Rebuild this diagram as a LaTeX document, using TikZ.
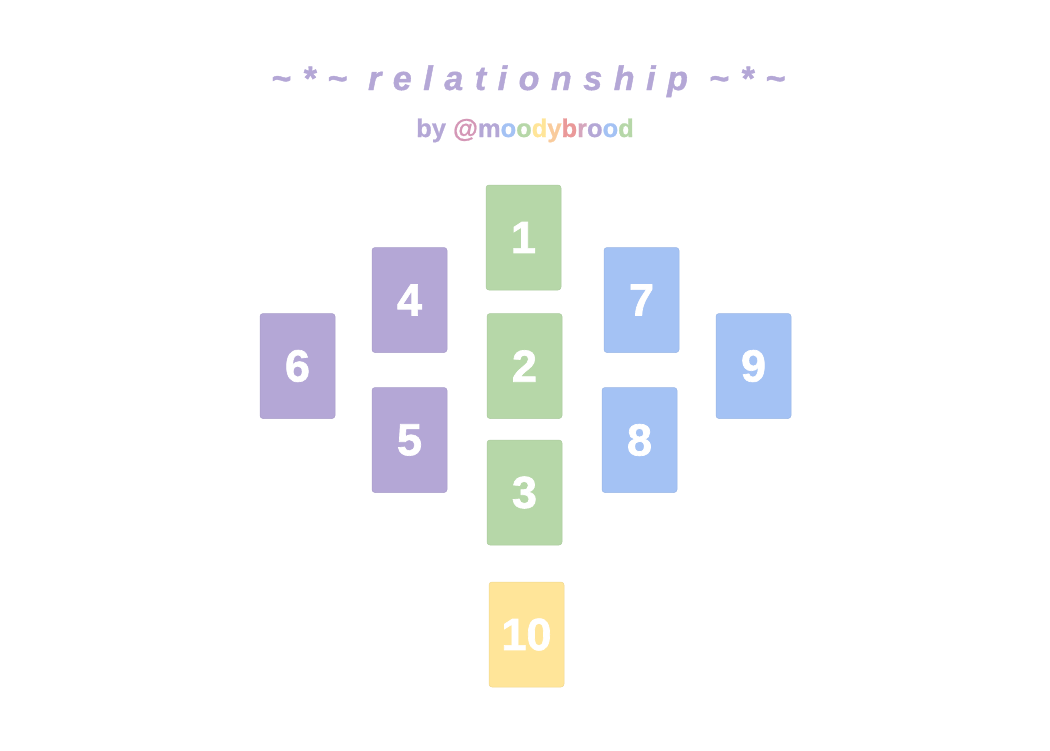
\documentclass[tikz,border=0pt]{standalone}
\usepackage{fontspec}
\usepackage{xcolor}
\setmainfont{Liberation Sans}[BoldFont=Liberation Sans Bold, BoldItalicFont=Liberation Sans Bold Italic]
\newfontfamily\titlefont{Liberation Sans Bold Italic}[LetterSpace=34, FakeBold=1.2]
\newfontfamily\cardfont{Liberation Sans Bold}[FakeBold=1.5]
\newfontfamily\bylinefont{Liberation Sans Bold}[FakeBold=0.8]
\definecolor{lavender}{HTML}{B4A7D6}
\definecolor{sage}{HTML}{B6D7A8}
\definecolor{sky}{HTML}{A4C2F4}
\definecolor{butter}{HTML}{FFE599}
\definecolor{peach}{HTML}{F9CB9C}
\definecolor{rose}{HTML}{EA9999}
\definecolor{blush}{HTML}{D5A6BD}
\definecolor{orchid}{HTML}{D497B6}
\tikzset{
  card/.style={
    draw=#1!94!black, fill=#1, line width=0.5pt, rounded corners=3pt,
    minimum width=75pt, minimum height=105pt, inner sep=0pt,
    text=white, font=\cardfont\fontsize{45}{45}\selectfont
  },
}
\begin{document}
\begin{tikzpicture}[x=1pt,y=-1pt]
\useasboundingbox (0,0) rectangle (1050,750);
% heading
\node[anchor=base, text=lavender, inner sep=0pt,
  font=\titlefont\fontsize{34}{34}\selectfont]
  (title) at (528,90) {{\char`\~}*{\char`\~} relationship {\char`\~}*{\char`\~}};
\node[anchor=base, inner sep=0pt, font=\bylinefont\fontsize{25.5}{25.5}\selectfont]
  (byline) at (525,137) {\textcolor{lavender}{by} \textcolor{orchid}{@}\textcolor{lavender}{m}\textcolor{sky}{o}\textcolor{sage}{o}\textcolor{butter}{d}\textcolor{peach}{y}\textcolor{rose}{b}\textcolor{blush}{r}\textcolor{lavender}{o}\textcolor{sky}{o}\textcolor{sage}{d}};
% spread
\foreach \n/\x/\y/\c in {
  1/523.5/237.5/sage, 2/524.5/366/sage, 3/524.5/492.5/sage,
  4/409.5/300/lavender, 5/409.5/440/lavender, 6/297.5/366/lavender,
  7/641.5/300/sky, 8/639.5/440/sky, 9/753.5/366/sky,
  10/526.5/634.5/butter}
  \node[card=\c] (card\n) at (\x,\y) {\n};
\end{tikzpicture}
\end{document}
